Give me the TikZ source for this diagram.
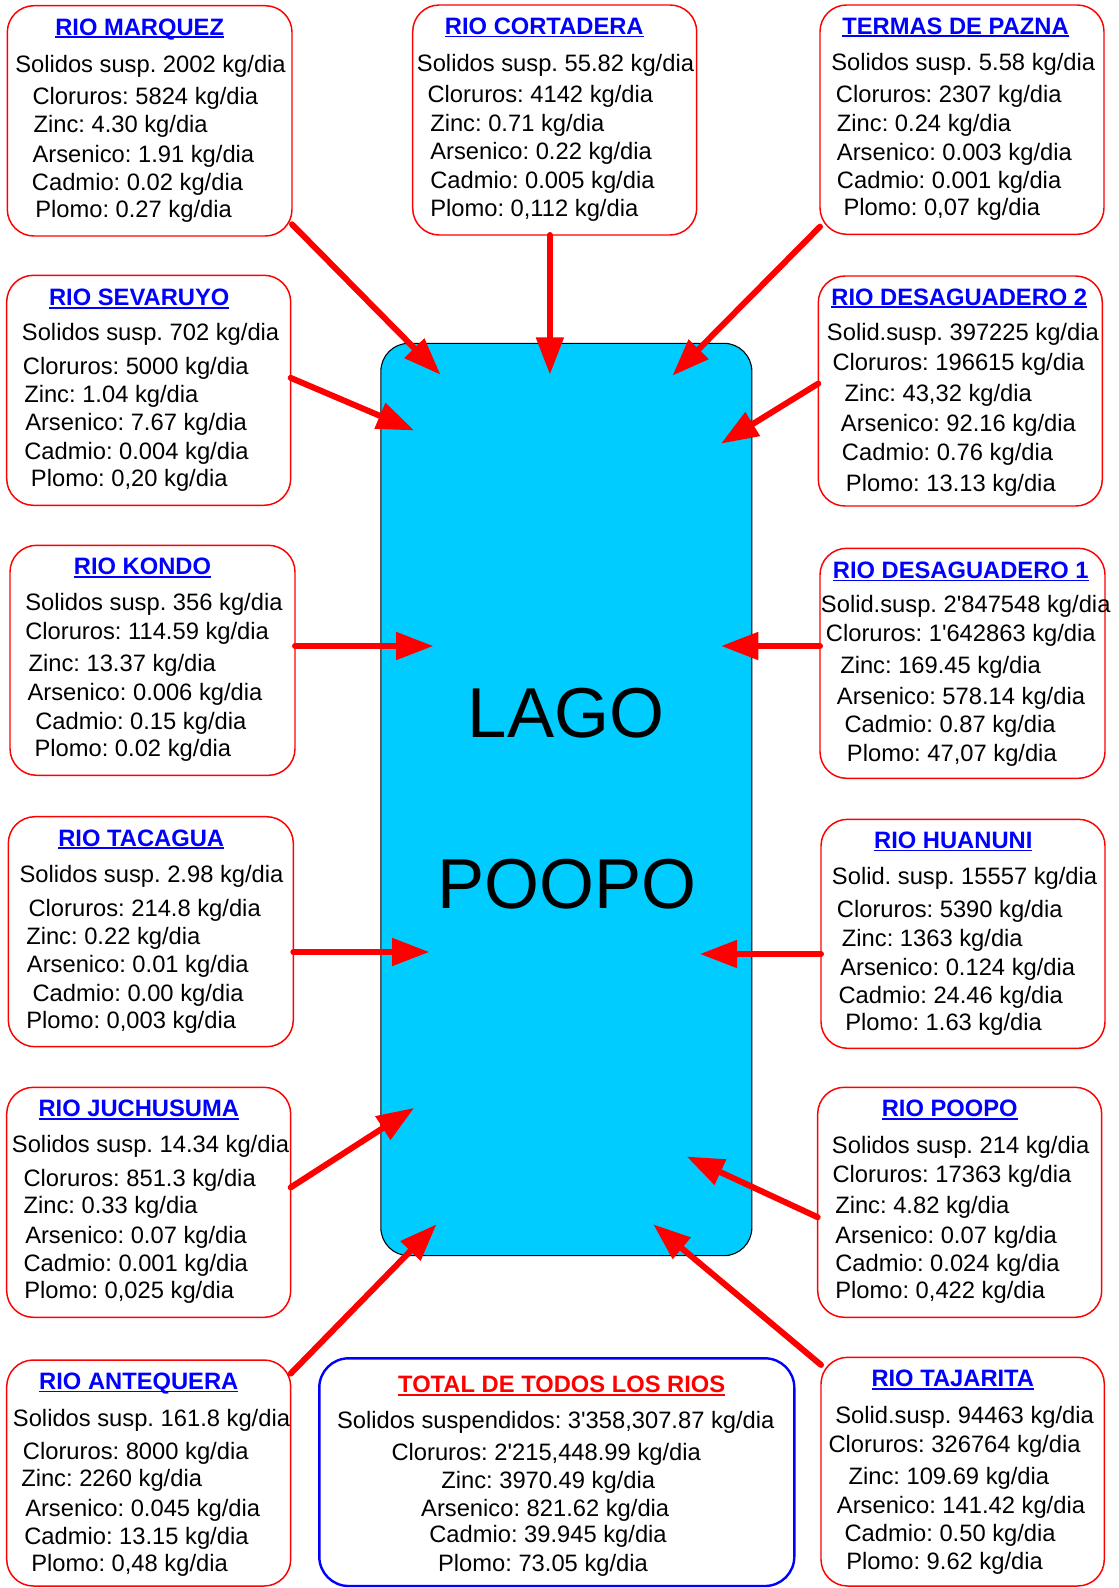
\documentclass[tikz,border=0pt]{standalone}
\usepackage{fontspec}
\setmainfont{Liberation Sans}
\usetikzlibrary{arrows.meta}
\definecolor{lake}{RGB}{0,204,255}
\newcommand\myul[1]{\setbox0=\hbox{#1}\rlap{\rule[-2.3pt]{\wd0}{1.3pt}}\box0}
\frenchspacing
\tikzset{
  rbox/.style={draw=red, line width=1.1pt, fill=white, rounded corners=20pt, inner sep=0pt, outer sep=0pt},
  tbox/.style={draw=blue, line width=1.8pt, fill=white, rounded corners=22pt, inner sep=0pt, outer sep=0pt},
  lakebox/.style={draw=black, line width=0.8pt, fill=lake, rounded corners=21pt, inner sep=0pt, outer sep=0pt},
  tline/.style={anchor=base west, inner sep=0pt, font=\fontsize{17.8}{20}\selectfont\frenchspacing},
  cline/.style={anchor=base, inner sep=0pt, font=\fontsize{17.8}{20}\selectfont\frenchspacing},
  ttl/.style={anchor=base, inner sep=0pt, text=blue, font=\fontsize{17.8}{20}\selectfont\bfseries},
  bigtxt/.style={anchor=base, inner sep=0pt, font=\fontsize{53}{60}\selectfont},
  arr/.style={draw=red, line width=4.5pt, line cap=round, -{Triangle[length=28pt,width=20pt]}}
}
\newcommand\riverbox[6][rbox]{\node[#1, minimum width={(#5-#3)*0.75pt}, minimum height={(#6-#4)*0.75pt}] (#2) at ({(#3+#5)/2},{(#4+#6)/2}) {};}
\newcommand\rivline[4]{\node[tline] (#1) at (#2,#3) {#4};}
\newcommand\cenline[4]{\node[cline] (#1) at (#2,#3) {#4};}
\newcommand\rivtitle[4]{\node[ttl] (#1) at (#2,#3) {\myul{#4}};}
\begin{document}
\begin{tikzpicture}[x=0.75pt,y=-0.75pt]
\useasboundingbox (0,0) rectangle (1118,1588);
% lake
\node[lakebox, minimum width={371*0.75pt}, minimum height={912.4*0.75pt}] (lake) at (566.35,799.5) {};
\node[bigtxt] (lago) at (566,737) {LAGO};
\node[bigtxt] (poopo) at (567,908) {POOPO};

% RIO MARQUEZ
\riverbox{marquez}{7.3}{5.7}{292}{236}
\rivtitle{mqT}{139.7}{35}{RIO MARQUEZ}
\rivline{mq1}{15}{72.7}{Solidos susp. 2002 kg/dia}
\rivline{mq2}{32.3}{104}{Cloruros: 5824 kg/dia}
\rivline{mq3}{33.3}{132.3}{Zinc: 4.30 kg/dia}
\rivline{mq4}{32.3}{162.3}{Arsenico: 1.91 kg/dia}
\rivline{mq5}{31.7}{190}{Cadmio: 0.02 kg/dia}
\rivline{mq6}{35}{217.3}{Plomo: 0.27 kg/dia}

% RIO CORTADERA
\riverbox{cortadera}{412.7}{5}{696.7}{235}
\rivtitle{ctT}{544.3}{34.3}{RIO CORTADERA}
\rivline{ct1}{416.7}{71}{Solidos susp. 55.82 kg/dia}
\rivline{ct2}{427.3}{102.3}{Cloruros: 4142 kg/dia}
\rivline{ct3}{430}{131}{Zinc: 0.71 kg/dia}
\rivline{ct4}{430}{159}{Arsenico: 0.22 kg/dia}
\rivline{ct5}{430}{188.3}{Cadmio: 0.005 kg/dia}
\rivline{ct6}{430}{216}{Plomo: 0,112 kg/dia}

% TERMAS DE PAZNA
\riverbox{termas}{820}{5}{1104}{234.3}
\rivtitle{tmT}{955.5}{34}{TERMAS DE PAZNA}
\rivline{tm1}{831}{70.7}{Solidos susp. 5.58 kg/dia}
\rivline{tm2}{835.7}{102.3}{Cloruros: 2307 kg/dia}
\rivline{tm3}{836.7}{131.7}{Zinc: 0.24 kg/dia}
\rivline{tm4}{836.7}{160}{Arsenico: 0.003 kg/dia}
\rivline{tm5}{836.7}{188.3}{Cadmio: 0.001 kg/dia}
\rivline{tm6}{843.3}{215}{Plomo: 0,07 kg/dia}

% RIO SEVARUYO
\riverbox{sevaruyo}{6.7}{275.3}{290.7}{505.3}
\rivtitle{svT}{139.2}{305.7}{RIO SEVARUYO}
\rivline{sv1}{21.7}{340.7}{Solidos susp. 702 kg/dia}
\rivline{sv2}{22.7}{374}{Cloruros: 5000 kg/dia}
\rivline{sv3}{24}{402}{Zinc: 1.04 kg/dia}
\rivline{sv4}{25}{430.7}{Arsenico: 7.67 kg/dia}
\rivline{sv5}{24}{459.7}{Cadmio: 0.004 kg/dia}
\rivline{sv6}{30.7}{486.3}{Plomo: 0,20 kg/dia}

% RIO KONDO
\riverbox{kondo}{10}{545.3}{295}{775.3}
\rivtitle{kdT}{142.5}{574.7}{RIO KONDO}
\rivline{kd1}{25}{610.3}{Solidos susp. 356 kg/dia}
\rivline{kd2}{25}{639}{Cloruros: 114.59 kg/dia}
\rivline{kd3}{28.3}{671.3}{Zinc: 13.37 kg/dia}
\rivline{kd4}{27.3}{700.7}{Arsenico: 0.006 kg/dia}
\rivline{kd5}{35}{729.7}{Cadmio: 0.15 kg/dia}
\rivline{kd6}{34.3}{756.3}{Plomo: 0.02 kg/dia}

% RIO TACAGUA
\riverbox{tacagua}{8.3}{816.7}{293.3}{1046.7}
\rivtitle{tcT}{141.2}{846}{RIO TACAGUA}
\rivline{tc1}{19.3}{882.7}{Solidos susp. 2.98 kg/dia}
\rivline{tc2}{28.3}{916}{Cloruros: 214.8 kg/dia}
\rivline{tc3}{26}{944}{Zinc: 0.22 kg/dia}
\rivline{tc4}{26.7}{972.7}{Arsenico: 0.01 kg/dia}
\rivline{tc5}{32.3}{1001}{Cadmio: 0.00 kg/dia}
\rivline{tc6}{26}{1028.3}{Plomo: 0,003 kg/dia}

% RIO JUCHUSUMA
\riverbox{juchusuma}{6.7}{1087.3}{290.7}{1317.3}
\rivtitle{juT}{138.8}{1116.7}{RIO JUCHUSUMA}
\rivline{ju1}{11.7}{1152.7}{Solidos susp. 14.34 kg/dia}
\rivline{ju2}{23.3}{1186}{Cloruros: 851.3 kg/dia}
\rivline{ju3}{23.3}{1213.3}{Zinc: 0.33 kg/dia}
\rivline{ju4}{25}{1243.3}{Arsenico: 0.07 kg/dia}
\rivline{ju5}{23.3}{1271.7}{Cadmio: 0.001 kg/dia}
\rivline{ju6}{24}{1298.3}{Plomo: 0,025 kg/dia}

% RIO ANTEQUERA
\riverbox{antequera}{6.7}{1360}{290.7}{1586}
\rivtitle{anT}{138.8}{1389.3}{RIO ANTEQUERA}
\rivline{an1}{12.7}{1426}{Solidos susp. 161.8 kg/dia}
\rivline{an2}{22.7}{1459.3}{Cloruros: 8000 kg/dia}
\rivline{an3}{21}{1486.7}{Zinc: 2260 kg/dia}
\rivline{an4}{25}{1516.7}{Arsenico: 0.045 kg/dia}
\rivline{an5}{24}{1544.3}{Cadmio: 13.15 kg/dia}
\rivline{an6}{31}{1571.7}{Plomo: 0,48 kg/dia}

% RIO DESAGUADERO 2
\riverbox{desagB}{818.3}{276}{1102.3}{506}
\rivtitle{dbT}{959.3}{305}{RIO DESAGUADERO 2}
\rivline{db1}{826.7}{340.7}{Solid.susp. 397225 kg/dia}
\rivline{db2}{832.3}{370.7}{Cloruros: 196615 kg/dia}
\rivline{db3}{844.3}{401.7}{Zinc: 43,32 kg/dia}
\rivline{db4}{840.7}{431.7}{Arsenico: 92.16 kg/dia}
\rivline{db5}{841.7}{460}{Cadmio: 0.76 kg/dia}
\rivline{db6}{845.7}{491}{Plomo: 13.13 kg/dia}

% RIO DESAGUADERO 1
\riverbox{desagA}{820}{548.3}{1105}{778.3}
\rivtitle{daT}{960.8}{578.3}{RIO DESAGUADERO 1}
\rivline{da1}{820.7}{612.7}{Solid.susp. 2\textquotesingle 847548 kg/dia}
\rivline{da2}{825.7}{641.7}{Cloruros: 1\textquotesingle 642863 kg/dia}
\rivline{da3}{840}{673.3}{Zinc: 169.45 kg/dia}
\rivline{da4}{836.7}{704}{Arsenico: 578.14 kg/dia}
\rivline{da5}{844.3}{732.7}{Cadmio: 0.87 kg/dia}
\rivline{da6}{846.7}{761.7}{Plomo: 47,07 kg/dia}

% RIO HUANUNI
\riverbox{huanuni}{821}{819.3}{1105}{1048.3}
\rivtitle{hnT}{953.3}{848.3}{RIO HUANUNI}
\rivline{hn1}{831.7}{884}{Solid. susp. 15557 kg/dia}
\rivline{hn2}{836.7}{917.3}{Cloruros: 5390 kg/dia}
\rivline{hn3}{841.7}{946.7}{Zinc: 1363 kg/dia}
\rivline{hn4}{840}{975}{Arsenico: 0.124 kg/dia}
\rivline{hn5}{838.3}{1003.3}{Cadmio: 24.46 kg/dia}
\rivline{hn6}{845}{1030.7}{Plomo: 1.63 kg/dia}

% RIO POOPO
\riverbox{rpoopo}{817.7}{1087.3}{1101.7}{1317.3}
\rivtitle{rpT}{949.7}{1116.7}{RIO POOPO}
\rivline{rp1}{831.7}{1153.3}{Solidos susp. 214 kg/dia}
\rivline{rp2}{832.3}{1182.7}{Cloruros: 17363 kg/dia}
\rivline{rp3}{835}{1213.3}{Zinc: 4.82 kg/dia}
\rivline{rp4}{835}{1243.3}{Arsenico: 0.07 kg/dia}
\rivline{rp5}{835}{1271.7}{Cadmio: 0.024 kg/dia}
\rivline{rp6}{835}{1298.3}{Plomo: 0,422 kg/dia}

% RIO TAJARITA
\riverbox{tajarita}{821}{1357.3}{1104.3}{1586}
\rivtitle{tjT}{952.8}{1386.7}{RIO TAJARITA}
\rivline{tj1}{835}{1423.3}{Solid.susp. 94463 kg/dia}
\rivline{tj2}{828.3}{1452.7}{Cloruros: 326764 kg/dia}
\rivline{tj3}{848.3}{1484}{Zinc: 109.69 kg/dia}
\rivline{tj4}{836.7}{1513.3}{Arsenico: 141.42 kg/dia}
\rivline{tj5}{844.3}{1541.7}{Cadmio: 0.50 kg/dia}
\rivline{tj6}{846}{1569}{Plomo: 9.62 kg/dia}

% TOTAL
\riverbox[tbox]{total}{319.3}{1358.3}{794.3}{1586}
\node[ttl, text=red] (ttT) at (561.7,1392.7) {\myul{TOTAL DE TODOS LOS RIOS}};
\cenline{tt1}{555.8}{1428.3}{Solidos suspendidos: 3\textquotesingle 358,307.87 kg/dia}
\cenline{tt2}{546.2}{1460}{Cloruros: 2\textquotesingle 215,448.99 kg/dia}
\cenline{tt3}{548.2}{1488.3}{Zinc: 3970.49 kg/dia}
\cenline{tt4}{545.2}{1516}{Arsenico: 821.62 kg/dia}
\cenline{tt5}{548}{1542.7}{Cadmio: 39.945 kg/dia}
\cenline{tt6}{543}{1571.7}{Plomo: 73.05 kg/dia}

% arrow tips inside the lake
\coordinate (p1) at (440.5,374.7);
\coordinate (p2) at (549.9,374.7);
\coordinate (p3) at (672.4,375.7);
\coordinate (p4) at (414.2,430.4);
\coordinate (p5) at (721,443.6);
\coordinate (p6) at (433.4,646);
\coordinate (p7) at (721,646);
\coordinate (p8) at (429.4,952);
\coordinate (p9) at (699.8,954);
\coordinate (p10) at (414.2,1107.9);
\coordinate (p11) at (686.6,1156.5);
\coordinate (p12) at (436.5,1224.3);
\coordinate (p13) at (653.2,1224.3);

\draw[arr] (marquez.-36.5) -- (p1);
\draw[arr] (p2 |- cortadera.south) -- (p2);
\draw[arr] (termas.217.4) -- (p3);
\draw[arr] (sevaruyo.5.3) -- (p4);
\draw[arr] (desagB.177.7) -- (p5);
\draw[arr] (kondo.east |- p6) -- (p6);
\draw[arr] (desagA.west |- p7) -- (p7);
\draw[arr] (tacagua.east |- p8) -- (p8);
\draw[arr] (huanuni.west |- p9) -- (p9);
\draw[arr] (juchusuma.6.5) -- (p10);
\draw[arr] (rpoopo.186.7) -- (p11);
\draw[arr] (antequera.35.6) -- (p12);
\draw[arr] (tajarita.143.7) -- (p13);
\end{tikzpicture}
\end{document}
